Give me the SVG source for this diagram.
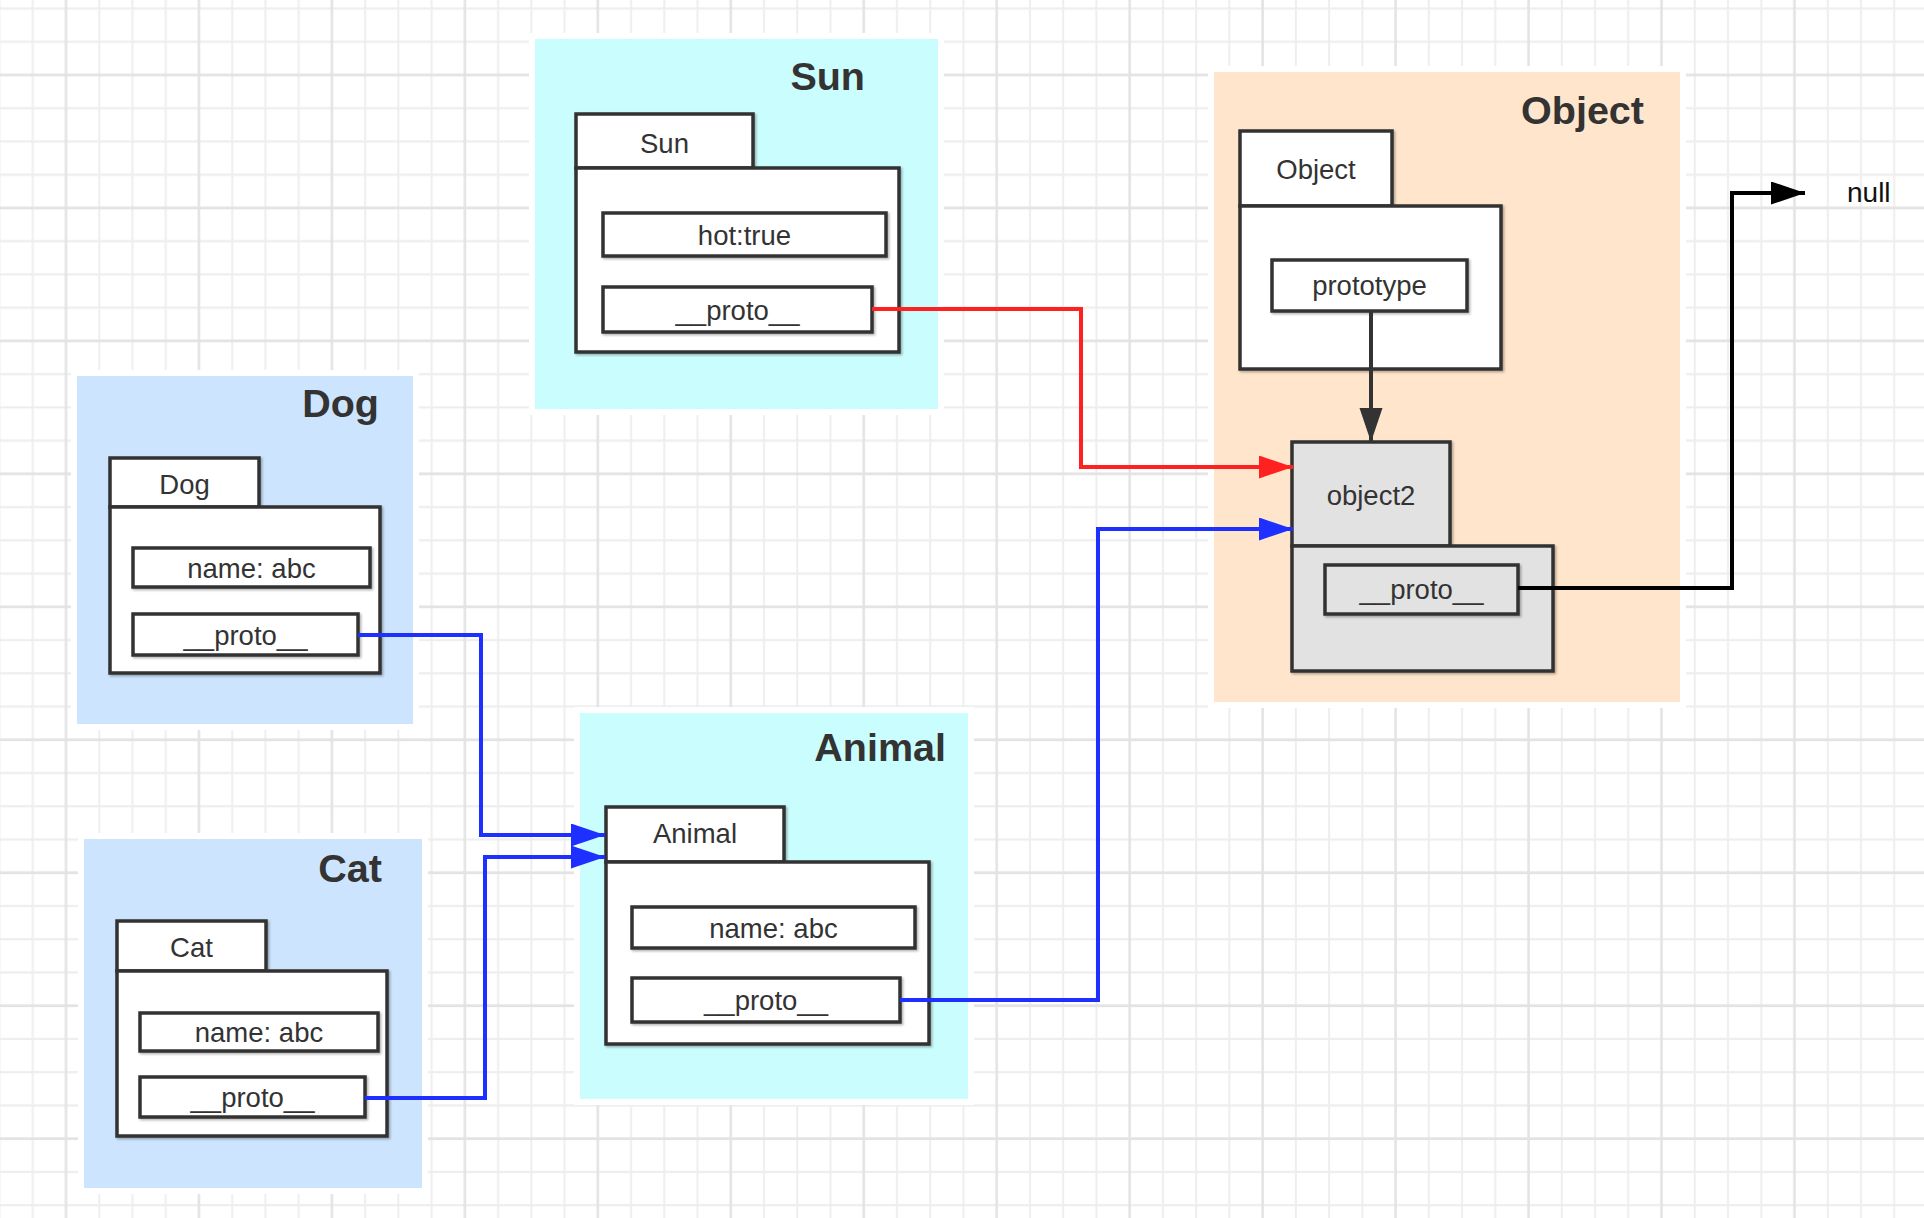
<svg xmlns="http://www.w3.org/2000/svg" width="1924" height="1218" viewBox="0 0 1924 1218">
<defs>
<pattern id="grid" x="49.38" y="58.38" width="132.96" height="132.96" patternUnits="userSpaceOnUse">
<path d="M49.86,0V132.96M83.1,0V132.96M116.34,0V132.96M0,49.86H132.96M0,83.1H132.96M0,116.34H132.96" stroke="#eeeeee" stroke-width="2" fill="none"/>
<path d="M16.62,0V132.96M0,16.62H132.96" stroke="#e3e3e3" stroke-width="2.5" fill="none"/>
</pattern>
<filter id="sh" x="-10%" y="-10%" width="130%" height="130%">
<feDropShadow dx="1.5" dy="1.5" stdDeviation="1" flood-color="#000" flood-opacity="0.3"/>
</filter>
<marker id="aRed" markerUnits="userSpaceOnUse" markerWidth="36" markerHeight="24" refX="34" refY="11.5" orient="auto"><path d="M0,0L34,11.5L0,23z" fill="#ff2020"/></marker>
<marker id="aBlue" markerUnits="userSpaceOnUse" markerWidth="36" markerHeight="24" refX="34" refY="11.5" orient="auto"><path d="M0,0L34,11.5L0,23z" fill="#1e30ff"/></marker>
<marker id="aBlack" markerUnits="userSpaceOnUse" markerWidth="36" markerHeight="24" refX="34" refY="11.5" orient="auto"><path d="M0,0L34,11.5L0,23z" fill="#000"/></marker>
<marker id="aGray" markerUnits="userSpaceOnUse" markerWidth="36" markerHeight="24" refX="34" refY="11.5" orient="auto"><path d="M0,0L34,11.5L0,23z" fill="#333"/></marker>
</defs>
<style>
.cont{stroke:#fff;stroke-width:12;paint-order:stroke}
.cyan{fill:#cafdfd}
.blue{fill:#cce4fd}
.peach{fill:#ffe5cb}
.box{fill:#fff;stroke:#333;stroke-width:3.5;filter:url(#sh)}
.gbox{fill:#e2e2e2;stroke:#333;stroke-width:3.5;filter:url(#sh)}
.title{font-family:"Liberation Sans",Arial,sans-serif;font-weight:bold;font-size:39.5px;fill:#333;text-anchor:end}
.lbl{font-family:"Liberation Sans",Arial,sans-serif;font-size:27.5px;fill:#333;text-anchor:middle}
.conn{fill:none;stroke-width:4}
</style>
<rect width="1924" height="1218" fill="#fff"/>
<rect width="1924" height="1218" fill="url(#grid)"/>

<g id="sun">
<rect class="cont cyan" x="535" y="39" width="403" height="370"/>
<text class="title" x="865" y="90">Sun</text>
<rect class="box" x="576" y="114" width="177" height="54"/>
<text class="lbl" x="664.5" y="153">Sun</text>
<rect class="box" x="576" y="168" width="323" height="184"/>
<rect class="box" x="603" y="213" width="283" height="43"/>
<text class="lbl" x="744.5" y="245">hot:true</text>
<rect class="box" x="603" y="287" width="269" height="45"/>
<text class="lbl" x="737.5" y="319.5">__proto__</text>
</g>

<g id="dog">
<rect class="cont blue" x="77" y="376" width="336" height="348"/>
<text class="title" x="379" y="417">Dog</text>
<rect class="box" x="110" y="458" width="149" height="49"/>
<text class="lbl" x="184.5" y="494">Dog</text>
<rect class="box" x="110" y="507" width="270" height="166"/>
<rect class="box" x="133" y="548" width="237" height="39"/>
<text class="lbl" x="251.5" y="577.5">name: abc</text>
<rect class="box" x="133" y="614" width="225" height="41"/>
<text class="lbl" x="245.5" y="644.5">__proto__</text>
</g>

<g id="cat">
<rect class="cont blue" x="84" y="839" width="338" height="349"/>
<text class="title" x="382" y="882">Cat</text>
<rect class="box" x="117" y="921" width="149" height="50"/>
<text class="lbl" x="191.5" y="957">Cat</text>
<rect class="box" x="117" y="971" width="270" height="165"/>
<rect class="box" x="140" y="1013" width="238" height="38"/>
<text class="lbl" x="259" y="1042">name: abc</text>
<rect class="box" x="140" y="1077" width="225" height="40"/>
<text class="lbl" x="252.5" y="1107">__proto__</text>
</g>

<g id="animal">
<rect class="cont cyan" x="580" y="713" width="388" height="386"/>
<text class="title" x="946" y="761">Animal</text>
<rect class="box" x="606" y="807" width="178" height="55"/>
<text class="lbl" x="695" y="843">Animal</text>
<rect class="box" x="606" y="862" width="323" height="182"/>
<rect class="box" x="632" y="907" width="283" height="41"/>
<text class="lbl" x="773.5" y="938">name: abc</text>
<rect class="box" x="632" y="978" width="268" height="44"/>
<text class="lbl" x="766" y="1010">__proto__</text>
</g>

<g id="object">
<rect class="cont peach" x="1214" y="72" width="466" height="630"/>
<text class="title" x="1644" y="124">Object</text>
<rect class="box" x="1240" y="131" width="152" height="75"/>
<text class="lbl" x="1316" y="179">Object</text>
<rect class="box" x="1240" y="206" width="261" height="163"/>
<rect class="box" x="1272" y="260" width="195" height="51"/>
<text class="lbl" x="1369.5" y="295">prototype</text>
</g>

<g id="object2">
<rect class="gbox" x="1292" y="442" width="158" height="104"/>
<text class="lbl" x="1371" y="505">object2</text>
<rect class="gbox" x="1292" y="546" width="261" height="125"/>
<rect class="gbox" x="1325" y="565" width="193" height="49"/>
<text class="lbl" x="1421.5" y="599">__proto__</text>
</g>

<g id="null">
<text x="1847" y="202" style="font-family:'Liberation Sans',Arial,sans-serif;font-size:28px;fill:#111">null</text>
</g>

<g id="connectors">
<path class="conn" d="M872,309H1081V467H1293" stroke="#ff2020" marker-end="url(#aRed)"/>
<path class="conn" d="M900,1000H1098V529H1293" stroke="#1e30ff" marker-end="url(#aBlue)"/>
<path class="conn" d="M358,635H481V835H605" stroke="#1e30ff" marker-end="url(#aBlue)"/>
<path class="conn" d="M365,1098H485V857H605" stroke="#1e30ff" marker-end="url(#aBlue)"/>
<path class="conn" d="M1371,311V442" stroke="#333" stroke-width="3.5" marker-end="url(#aGray)"/>
<path class="conn" d="M1518,588H1732V193H1805" stroke="#000" marker-end="url(#aBlack)"/>
</g>
</svg>
